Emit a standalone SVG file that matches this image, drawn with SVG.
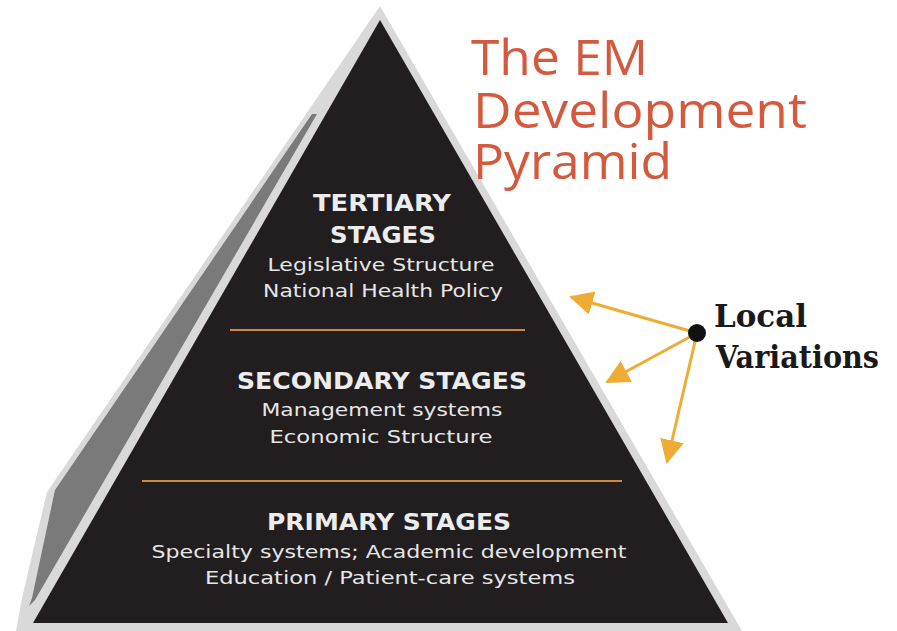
<svg xmlns="http://www.w3.org/2000/svg" width="897" height="631" viewBox="0 0 897 631">
<defs>
<style>
.hd{font-family:"DejaVu Sans","Liberation Sans",sans-serif;font-weight:bold;font-size:23px;fill:#ececec;text-anchor:middle}
.bd{font-family:"DejaVu Sans","Liberation Sans",sans-serif;font-size:18.5px;fill:#e6e6e6;text-anchor:middle}
.tt{font-family:"Open Sans","Liberation Sans",sans-serif;font-size:50px;fill:#d45a3f}
.lv{font-family:"DejaVu Serif","Liberation Serif",serif;font-weight:bold;font-size:31px;fill:#1a1a1a}
.div{stroke:#c98a3e;stroke-width:2.2}
.arr{stroke:#eeac35;stroke-width:3;fill:none}
</style>
<marker id="ah" markerUnits="userSpaceOnUse" markerWidth="26" markerHeight="26" viewBox="0 0 26 26" refX="22" refY="13" orient="auto">
<path d="M0,1 L24,13 L0,25 Z" fill="#eeac35"/>
</marker>
</defs>
<rect width="897" height="631" fill="#ffffff"/>
<g id="pyramid">
<polygon points="380,6 742,631 16,631 22,598 47,492" fill="#d9d9d9"/>
<polygon points="312,114 317,114 35,600 29,606 32,598 55,490" fill="#7a7a7a"/>
<polygon points="380,20 728,623 33,623" fill="#221e1f"/>
</g>
<g id="connectors">
<line class="div" x1="230" y1="330" x2="525" y2="330"/>
<line class="div" x1="142" y1="481" x2="622" y2="481"/>
<line class="arr" x1="697" y1="333" x2="571" y2="297" marker-end="url(#ah)"/>
<line class="arr" x1="697" y1="333" x2="607" y2="382" marker-end="url(#ah)"/>
<line class="arr" x1="697" y1="333" x2="667" y2="462" marker-end="url(#ah)"/>
</g>
<g id="tertiary">
<text class="hd" x="382" y="211" textLength="138" lengthAdjust="spacingAndGlyphs">TERTIARY</text>
<text class="hd" x="383" y="243" textLength="106" lengthAdjust="spacingAndGlyphs">STAGES</text>
<text class="bd" x="381" y="271" textLength="227" lengthAdjust="spacingAndGlyphs">Legislative Structure</text>
<text class="bd" x="383" y="297" textLength="240" lengthAdjust="spacingAndGlyphs">National Health Policy</text>
</g>
<g id="secondary">
<text class="hd" x="382" y="389" textLength="290" lengthAdjust="spacingAndGlyphs">SECONDARY STAGES</text>
<text class="bd" x="382" y="416" textLength="241" lengthAdjust="spacingAndGlyphs">Management systems</text>
<text class="bd" x="381" y="443" textLength="223" lengthAdjust="spacingAndGlyphs">Economic Structure</text>
</g>
<g id="primary">
<text class="hd" x="389" y="530" textLength="244" lengthAdjust="spacingAndGlyphs">PRIMARY STAGES</text>
<text class="bd" x="389" y="558" textLength="475" lengthAdjust="spacingAndGlyphs">Specialty systems; Academic development</text>
<text class="bd" x="390" y="584" textLength="370" lengthAdjust="spacingAndGlyphs">Education / Patient-care systems</text>
</g>
<g id="title">
<text class="tt" x="471" y="75" textLength="177" lengthAdjust="spacingAndGlyphs">The EM</text>
<text class="tt" x="473" y="128" textLength="334" lengthAdjust="spacingAndGlyphs">Development</text>
<text class="tt" x="473" y="179" textLength="199" lengthAdjust="spacingAndGlyphs">Pyramid</text>
</g>
<g id="local-variations">
<circle cx="697" cy="333" r="9" fill="#111"/>
<text class="lv" x="714" y="327" textLength="93" lengthAdjust="spacingAndGlyphs">Local</text>
<text class="lv" x="716" y="368" textLength="163" lengthAdjust="spacingAndGlyphs">Variations</text>
</g>
</svg>
